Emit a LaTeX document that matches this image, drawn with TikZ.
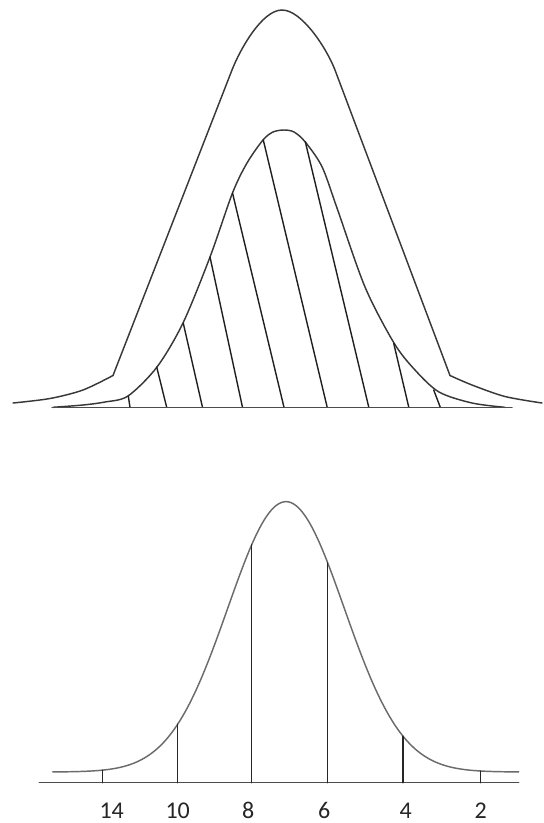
\documentclass[tikz,border=0pt]{standalone}
\usepackage{fontspec}
\setmainfont{Carlito}
\begin{document}
\begin{tikzpicture}[x=1pt,y=-1pt,line cap=round,line join=round,
  declare function={g(\x)=772-270.3*exp(-0.5*((\x-286)/58.2)^2);},
  curveline/.style={draw=black!78,line width=1.45pt},
  hatchline/.style={draw=black!88,line width=1.4pt},
  axisline/.style={draw=black!70,line width=1.5pt},
  softcurve/.style={draw=black!58,line width=1.45pt},
  tickline/.style={draw=black!85,line width=1.45pt},
  lab/.style={font=\fontsize{24}{28}\selectfont,text=black!85,inner sep=0pt,anchor=center}]
\useasboundingbox (0,0) rectangle (544,823);
\fill[white] (0,0) rectangle (544,823);

% ---------- upper figure ----------
% outer curve
\draw[curveline] plot[smooth] coordinates {(13,403) (50,398.5) (83,390) (113,375.5)};
\draw[curveline] (113,375.5) -- (232,70) .. controls (240,49.5) and (262,10) .. (282,10)
  .. controls (302,10) and (327,49) .. (335,70) -- (450,375.5);
\draw[curveline] plot[smooth] coordinates {(450,375.5) (472,385) (505,396.5) (542,403)};
% inner curve
\draw[curveline] plot[smooth] coordinates {(53,407.3) (83,405) (105,402) (128,396) (157,367) (183,323) (210,257) (232.5,193) (247,163) (263,140) (273,132) (284,130) (294,132) (305,141.7) (322,166.7) (337,208) (365,287) (394,343) (415,370) (439,392) (472,403) (505,407.3)};
% hatching
\draw[hatchline] (128.3,396) -- (130,407.3);
\draw[hatchline] (156.7,367) -- (166.7,407.3);
\draw[hatchline] (183.3,323.3) -- (202.5,407.3);
\draw[hatchline] (210,257) -- (242.5,407.3);
\draw[hatchline] (232.5,193) -- (284,407.3);
\draw[hatchline] (263.3,140) -- (327.2,407.3);
\draw[hatchline] (305.3,141.7) -- (368.8,407.3);
\draw[hatchline] (393.7,343.3) -- (408.8,407.3);
\draw[hatchline] (433.7,390) -- (440.3,407.3);
% baseline
\draw[axisline] (52,407.5) -- (512,407.5);

% ---------- lower figure ----------
\draw[axisline] (39.3,782.7) -- (518.7,782.7);
\draw[softcurve] plot[domain=52.7:518.7,samples=240] (\x,{g(\x)});
\foreach \t in {102.3,177.7,251.7,327.7,403,480.3}
  \draw[tickline] (\t,782.7) -- (\t,{g(\t)});
\node[lab] (l14) at (111.7,810.5) {14};
\node[lab] (l10) at (177.7,810.5) {10};
\node[lab] (l8)  at (248.3,810.5) {8};
\node[lab] (l6)  at (324.3,810.5) {6};
\node[lab] (l4)  at (405.7,810.5) {4};
\node[lab] (l2)  at (480.7,810.5) {2};
\end{tikzpicture}
\end{document}
